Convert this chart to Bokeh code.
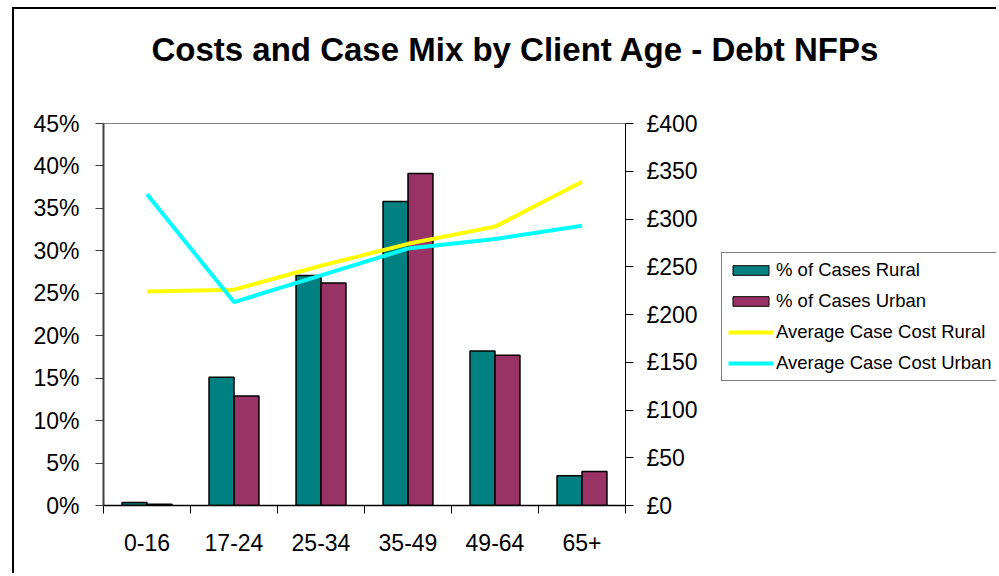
from bokeh.plotting import figure
from bokeh.models import (Range1d, LinearAxis, FixedTicker, Legend, LegendItem,
                          ColumnDataSource, Label)
from bokeh.layouts import row, column
from bokeh.embed import file_html
from bokeh.resources import INLINE

# ---------------- data ----------------
age_groups = ["0-16", "17-24", "25-34", "35-49", "49-64", "65+"]
pct_cases_rural = [0.35, 15.1, 27.1, 35.8, 18.2, 3.5]
pct_cases_urban = [0.15, 12.9, 26.2, 39.1, 17.7, 4.0]
avg_cost_rural = [224, 226, 251, 274, 292, 339]
avg_cost_urban = [326, 213, 241, 269, 279, 293]
pct_ticks = [0, 5, 10, 15, 20, 25, 30, 35, 40, 45]
cost_ticks = [0, 50, 100, 150, 200, 250, 300, 350, 400]
series_labels = ["% of Cases Rural", "% of Cases Urban",
                 "Average Case Cost Rural", "Average Case Cost Urban"]
chart_title = "Costs and Case Mix by Client Age - Debt NFPs"

FONT = "Liberation Sans"
TEAL = "#008080"
PLUM = "#993366"
YELLOW = "#FFFF00"
CYAN = "#00FFFF"
BORDER = "2px solid #000000"

n = len(age_groups)
centers = [i + 0.5 for i in range(n)]
bw = 0.287

src = ColumnDataSource(dict(
    xr=[c - bw / 2 for c in centers],
    xu=[c + bw / 2 for c in centers],
    xc=centers,
    rural=pct_cases_rural,
    urban=pct_cases_urban,
    crural=avg_cost_rural,
    curban=avg_cost_urban,
))

# ---------------- title strip ----------------
TW, TH = 984, 100
tfig = figure(width=TW, height=TH, output_backend="svg", toolbar_location=None,
              x_range=Range1d(0, TW), y_range=Range1d(0, TH),
              min_border=0, x_axis_type=None, y_axis_type=None)
tfig.styles = {"border-left": BORDER, "border-top": BORDER}
tfig.grid.visible = False
tfig.outline_line_color = None
tfig.add_layout(Label(x=137, y=60, text=chart_title, text_font=FONT,
                      text_font_size="33px", text_font_style="bold",
                      text_color="black", text_baseline="alphabetic"))

# ---------------- main chart ----------------
p = figure(width=686, height=466, output_backend="svg", toolbar_location=None,
           x_range=Range1d(0, n), y_range=Range1d(0, 45),
           min_border_left=89, min_border_right=75, min_border_top=16,
           min_border_bottom=68, x_axis_type=None, y_axis_type=None)
p.styles = {"border-left": BORDER}
p.extra_y_ranges = {"cost": Range1d(0, 400)}
p.grid.visible = False
p.outline_line_color = "#808080"
p.outline_line_width = 1

bar_style = dict(line_color="black", line_width=1.5)
p.vbar(x="xr", width=bw, top="rural", bottom=0, source=src, fill_color=TEAL, **bar_style)
p.vbar(x="xu", width=bw, top="urban", bottom=0, source=src, fill_color=PLUM, **bar_style)
p.line(x="xc", y="crural", source=src, y_range_name="cost", line_color=YELLOW, line_width=4)
p.line(x="xc", y="curban", source=src, y_range_name="cost", line_color=CYAN, line_width=4)

yl = LinearAxis(ticker=FixedTicker(ticks=pct_ticks, minor_ticks=[]))
yl.major_label_overrides = {t: f"{t}%" for t in pct_ticks}
yr = LinearAxis(y_range_name="cost", ticker=FixedTicker(ticks=cost_ticks, minor_ticks=[]))
yr.major_label_overrides = {t: f"£{t}" for t in cost_ticks}
xb = LinearAxis(ticker=FixedTicker(ticks=centers, minor_ticks=list(range(n + 1))))
xb.major_label_overrides = {c: g for c, g in zip(centers, age_groups)}

for ax in (yl, yr, xb):
    ax.major_label_text_font = FONT
    ax.major_label_text_font_size = "23px"
    ax.major_label_text_color = "black"
    ax.axis_line_color = "black"
    ax.major_tick_line_color = "black"
    ax.major_tick_in = 0
    ax.major_tick_out = 8
    ax.minor_tick_in = 0
    ax.minor_tick_out = 0
    ax.major_label_standoff = 13

yl.axis_line_color = "#404040"
yl.axis_line_width = 2
yl.major_tick_line_color = "#404040"
yl.major_label_standoff = 16
xb.axis_line_width = 1.5
xb.major_tick_out = 0
xb.minor_tick_out = 8
xb.minor_tick_line_color = "black"
xb.major_label_standoff = 20

p.add_layout(yl, "left")
p.add_layout(yr, "right")
p.add_layout(xb, "below")

# ---------------- legend strip ----------------
# same series, mapped far outside this strip's visible range: only legend swatches show
q = figure(width=298, height=466, output_backend="svg", toolbar_location=None,
           x_range=Range1d(-101, -100), y_range=Range1d(-101, -100),
           min_border=0, x_axis_type=None, y_axis_type=None)
q.grid.visible = False
q.outline_line_color = None
lw = dict(line_color="black", line_width=1)
r1 = q.vbar(x="xr", width=bw, top="rural", bottom=0, source=src, fill_color=TEAL, **lw)
r2 = q.vbar(x="xu", width=bw, top="urban", bottom=0, source=src, fill_color=PLUM, **lw)
r3 = q.line(x="xc", y="crural", source=src, line_color=YELLOW, line_width=4)
r4 = q.line(x="xc", y="curban", source=src, line_color=CYAN, line_width=4)

legend = Legend(items=[LegendItem(label=lab, renderers=[r])
                       for lab, r in zip(series_labels, [r1, r2, r3, r4])],
                location=(23, 124))
legend.label_text_font = FONT
legend.label_text_font_size = "18.5px"
legend.label_text_color = "black"
legend.glyph_width = 45
legend.glyph_height = 12
legend.label_height = 20
legend.spacing = 9
legend.padding = 6
legend.margin = 0
legend.label_standoff = 3
legend.border_line_color = "black"
legend.border_line_width = 1
legend.background_fill_alpha = 1
q.add_layout(legend, "center")

layout = column(tfig, row(p, q), margin=(7, 0, 0, 12))
open("out.html", "w").write(file_html(layout, INLINE))
